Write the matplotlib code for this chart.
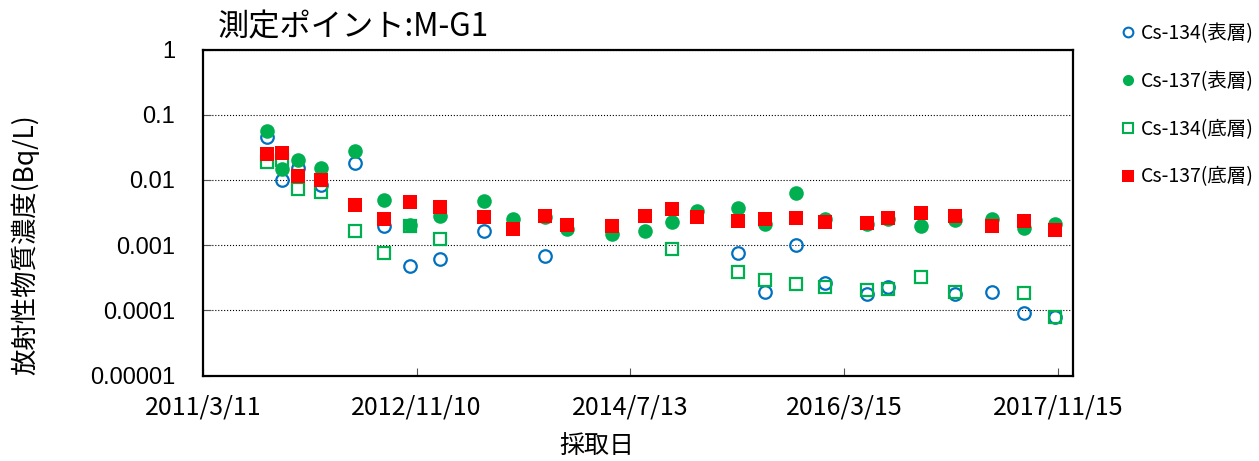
import numpy as np
import pandas as pd
import matplotlib
matplotlib.use("Agg")
import matplotlib.pyplot as plt
from matplotlib.lines import Line2D
from matplotlib.ticker import NullLocator, FixedLocator, FixedFormatter

plt.rcParams['font.family'] = ['Noto Sans CJK JP', 'DejaVu Sans']

# sampling dates
dates = ['2011-09-09', '2011-10-22', '2011-12-07', '2012-02-10', '2012-05-17',
         '2012-08-08', '2012-10-23', '2013-01-17', '2013-05-22', '2013-08-13',
         '2013-11-12', '2014-01-14', '2014-05-22', '2014-08-23', '2014-11-09',
         '2015-01-19', '2015-05-16', '2015-08-01', '2015-10-28', '2016-01-20',
         '2016-05-18', '2016-07-19', '2016-10-19', '2017-01-26', '2017-05-12',
         '2017-08-09', '2017-11-08']

nan = np.nan
cs134_surface = [0.0447, 0.0101, 0.0150, 0.0085, 0.0183,
                 0.00195, 0.000474, 0.000617, 0.00163, nan,
                 0.000676, nan, nan, nan, nan,
                 nan, 0.000762, 0.000194, 0.00102, 0.000258,
                 0.000175, 0.000229, nan, 0.000175, 0.000192,
                 0.0000916, 0.0000795]
cs137_surface = [0.0558, 0.0145, 0.0199, 0.0150, 0.0282,
                 0.0050, 0.0020, 0.00277, 0.00467, 0.00251,
                 0.0027, 0.00178, 0.00146, 0.00163, 0.00224,
                 0.00331, 0.00374, 0.00207, 0.00634, 0.00247,
                 0.00207, 0.00247, 0.00195, 0.00242, 0.00251,
                 0.00184, 0.00207]
cs134_bottom = [0.0185, 0.020, 0.00713, 0.00641, 0.00163,
                0.00077, 0.00195, 0.00125, nan, nan,
                nan, nan, nan, nan, 0.000877,
                nan, 0.000384, 0.000296, 0.000254, 0.000226,
                0.000208, 0.000213, 0.000327, 0.000192, nan,
                0.000186, 0.0000795]
cs137_bottom = [0.0254, 0.0263, 0.0114, 0.0101, 0.00405,
                0.00247, 0.00455, 0.00381, 0.00268, 0.00175,
                0.00277, 0.00205, 0.00195, 0.00277, 0.00361,
                0.00268, 0.00233, 0.00247, 0.00256, 0.00224,
                0.00220, 0.00265, 0.00313, 0.00277, 0.00199,
                0.00233, 0.00173]

labels = ['Cs-134(表層)', 'Cs-137(表層)', 'Cs-134(底層)', 'Cs-137(底層)']
x_ticks = ['2011-03-11', '2012-11-10', '2014-07-13', '2016-03-15', '2017-11-15']
x_ticklabels = ['2011/3/11', '2012/11/10', '2014/7/13', '2016/3/15', '2017/11/15']
y_ticks = [1, 0.1, 0.01, 0.001, 0.0001, 0.00001]
y_ticklabels = ['1', '0.1', '0.01', '0.001', '0.0001', '0.00001']

blue = '#0070C0'
green = '#00B050'
red = '#FF0000'

x = pd.to_datetime(dates)

fig = plt.figure(figsize=(12.59, 4.61), dpi=100)
ax = fig.add_axes([203 / 1259, 1 - 375.5 / 461, 870 / 1259, 326 / 461])

ax.plot(x, cs134_surface, 'o', ls='none', ms=9, mfc='none', mec=blue, mew=1.6, zorder=3)
ax.plot(x, cs137_surface, 'o', ls='none', ms=10.5, mfc=green, mec=green, mew=0, zorder=4)
ax.plot(x, cs134_bottom, 's', ls='none', ms=9, mfc='none', mec=green, mew=1.6, zorder=5)
ax.plot(x, cs137_bottom, 's', ls='none', ms=10.5, mfc=red, mec=red, mew=0, zorder=6)

ax.set_yscale('log')
ax.set_ylim(0.00001, 1)
ax.yaxis.set_major_locator(FixedLocator(y_ticks))
ax.yaxis.set_major_formatter(FixedFormatter(y_ticklabels))
ax.yaxis.set_minor_locator(NullLocator())

base = pd.Timestamp('2011-03-11')
ax.set_xlim(base, base + pd.Timedelta(days=2484))
ax.set_xticks(pd.to_datetime(x_ticks))
ax.set_xticklabels(x_ticklabels)
ax.xaxis.set_minor_locator(NullLocator())

ax.grid(True, axis='y', color='black', linestyle=':', linewidth=0.8)
for s in ax.spines.values():
    s.set_linewidth(1.6)
    s.set_color('black')

ax.tick_params(axis='both', direction='in', length=6, width=0.8, color='#555555')
ax.tick_params(axis='y', pad=20)
ax.tick_params(axis='x', pad=14)
for t in ax.get_yticklabels():
    t.set_fontfamily(['Liberation Sans', 'DejaVu Sans'])
    t.set_fontsize(17)
for t in ax.get_xticklabels():
    t.set_fontsize(18)

fig.text(218 / 1259, 1 - 27 / 461, '測定ポイント:M-G1', fontsize=22.5, ha='left', va='center')
fig.text(25 / 1259, 1 - 245 / 461, '放射性物質濃度(Bq/L)', fontsize=19, rotation=90,
         ha='center', va='center')
fig.text(597 / 1259, 1 - 446 / 461, '採取日', fontsize=18, ha='center', va='center')

handles = [
    Line2D([], [], marker='o', ls='none', ms=7, mfc='none', mec=blue, mew=1.5),
    Line2D([], [], marker='o', ls='none', ms=8, mfc=green, mec=green, mew=0),
    Line2D([], [], marker='s', ls='none', ms=7, mfc='none', mec=green, mew=1.5),
    Line2D([], [], marker='s', ls='none', ms=8, mfc=red, mec=red, mew=0),
]
fig.legend(handles, labels, loc='upper left', bbox_to_anchor=(1122 / 1259, 1 - 23 / 461),
           frameon=False, fontsize=14, handlelength=0.6, handletextpad=0.35,
           labelspacing=1.38, borderaxespad=0, borderpad=0)

fig.savefig('out.png', dpi=100)
